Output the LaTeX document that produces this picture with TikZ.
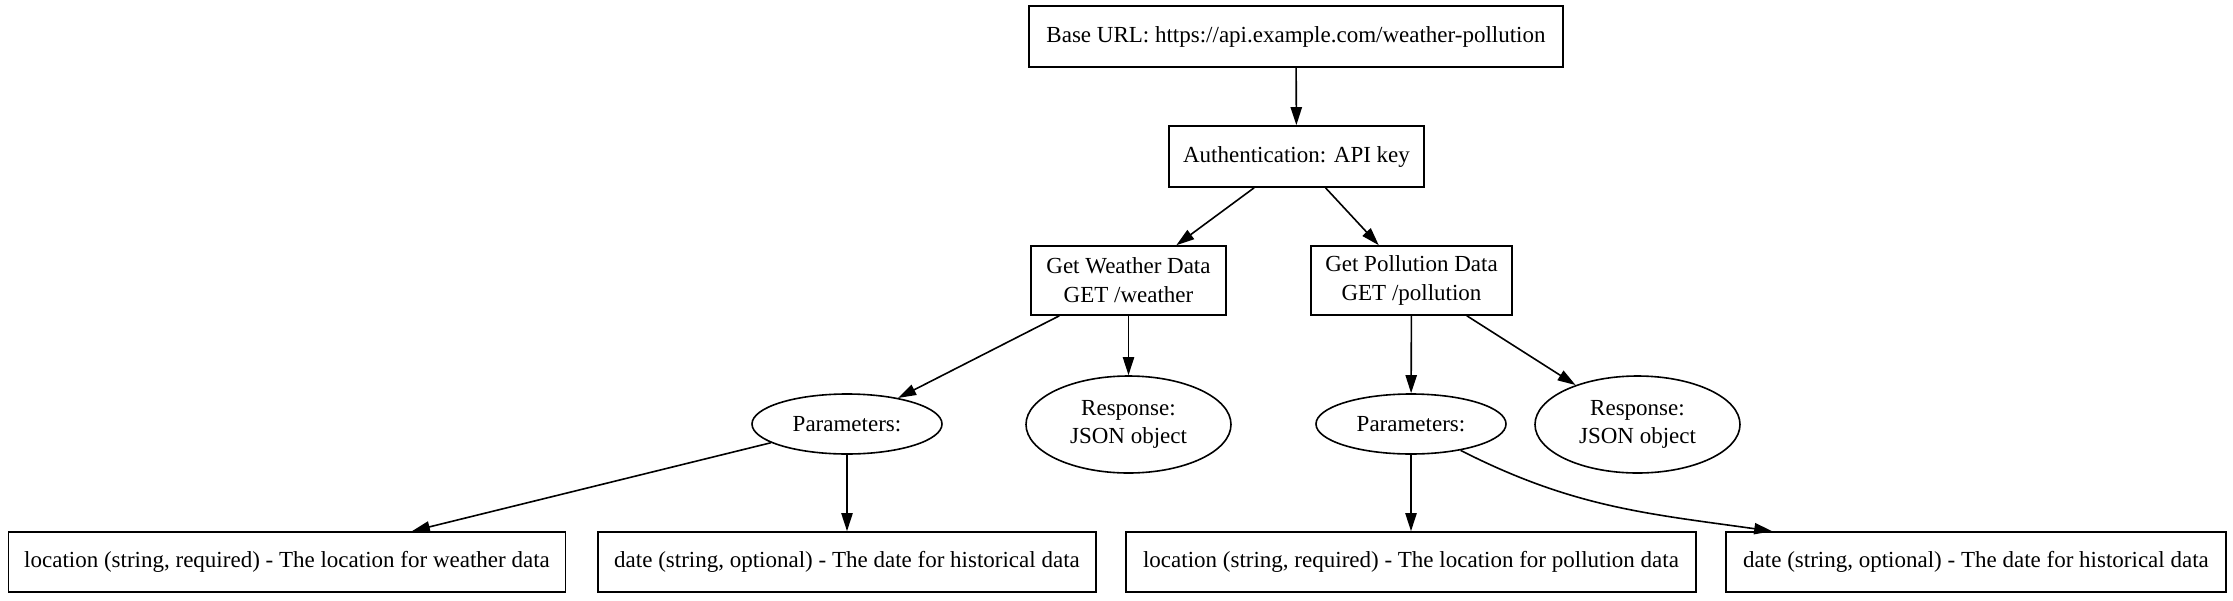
\documentclass[tikz,border=0pt]{standalone}
\usepackage{fontspec}
\setmainfont{Liberation Serif}
\usetikzlibrary{shapes.geometric,arrows.meta,calc}
\begin{document}
\begin{tikzpicture}[x=0.5pt,y=-0.5pt,
  every node/.style={font=\fontsize{11.5}{14.4}\selectfont, inner sep=0pt, align=center},
  box/.style={draw, line width=0.8pt, rectangle},
  oval/.style={draw, line width=0.8pt, ellipse},
  arr/.style={line width=0.8pt, -{Triangle[length=9pt,width=5.6pt]}}]
\useasboundingbox (0,0) rectangle (2233,600);
\node[box, minimum width=267pt, minimum height=30.5pt] (base) at (1296,36.5) {Base URL: https://api.example.com/weather-pollution};
\node[box, minimum width=127.5pt, minimum height=30.5pt] (auth) at (1296.5,156.5) {Authentication: API key};
\node[box, minimum width=97.5pt, minimum height=34.5pt] (weather) at (1128.5,280.5) {Get Weather Data\\GET /weather};
\node[box, minimum width=100.5pt, minimum height=34.5pt] (poll) at (1411.5,280.5) {Get Pollution Data\\GET /pollution};
\node[oval, minimum width=95pt, minimum height=30pt] (paramL) at (847,424) {Parameters:};
\node[oval, minimum width=102.5pt, minimum height=48.5pt] (respL) at (1128.5,424.5) {Response:\\JSON object};
\node[oval, minimum width=95pt, minimum height=30pt] (paramR) at (1411,424) {Parameters:};
\node[oval, minimum width=102.5pt, minimum height=48.5pt] (respR) at (1637.5,424.5) {Response:\\JSON object};
\node[box, minimum width=278.5pt, minimum height=30pt] (locW) at (287,562) {location (string, required) - The location for weather data};
\node[box, minimum width=249pt, minimum height=30pt] (dateW) at (847,562) {date (string, optional) - The date for historical data};
\node[box, minimum width=285pt, minimum height=30pt] (locP) at (1411,562) {location (string, required) - The location for pollution data};
\node[box, minimum width=250pt, minimum height=30pt] (dateP) at (1976,562) {date (string, optional) - The date for historical data};
\draw[arr] (base) -- (auth);
\draw[arr] (auth) -- (weather);
\draw[arr] (auth) -- (poll);
\draw[arr] (weather) -- (paramL);
\draw[arr] (weather) -- (respL);
\draw[arr] (poll) -- (paramR);
\draw[arr] (poll) -- (respR);
\draw[arr] (paramL) -- (locW);
\draw[arr] (paramL) -- (dateW);
\draw[arr] (paramR) -- (locP);
\draw[arr] (paramR.-28) to[out=-27,in=172] ($(dateP.north west)+(47,0)$);
\end{tikzpicture}
\end{document}
